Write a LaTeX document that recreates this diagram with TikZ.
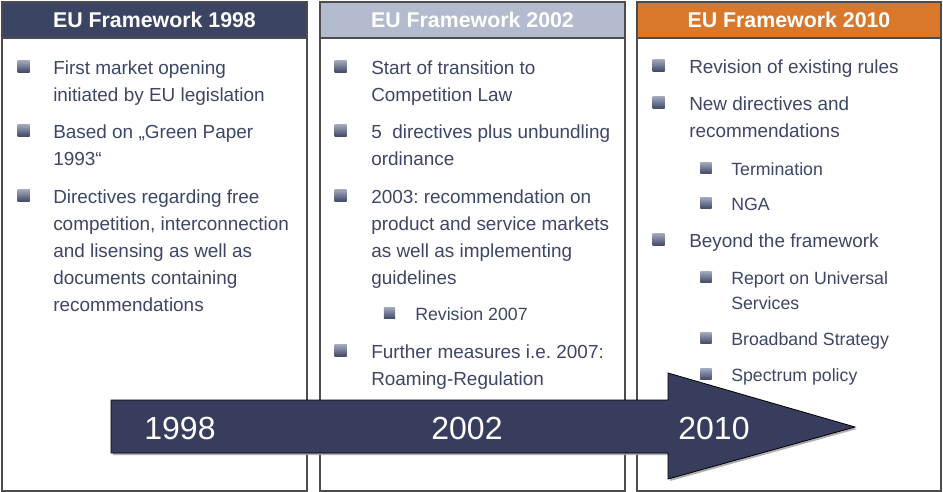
\documentclass[tikz,border=0pt]{standalone}
\usepackage{fontspec}
\setmainfont{Liberation Sans}
\usetikzlibrary{positioning,shadows}
\usepackage{xcolor}
\frenchspacing

\definecolor{navy}{HTML}{3B4563}
\definecolor{paleblue}{HTML}{B3BBCE}
\definecolor{orangehead}{HTML}{D9782A}
\definecolor{textc}{HTML}{3E4666}
\definecolor{arrowc}{HTML}{383D5E}
\definecolor{bullight}{HTML}{A2A8BC}
\definecolor{buldark}{HTML}{414868}

\begin{document}
\begin{tikzpicture}[x=0.75pt, y=-0.75pt,
    colbox/.style={draw=gray!60!black, fill=white, line width=1pt, inner sep=0pt,
        minimum width=228.75pt, minimum height=366.75pt},
    headbox/.style={draw=gray!60!black, line width=1pt, inner sep=0pt, text=white,
        minimum width=228.75pt, minimum height=27pt, font=\fontsize{16}{19}\selectfont\bfseries},
    sq/.style={rectangle, inner sep=0pt, minimum size=9pt, top color=bullight, bottom color=buldark},
    sqsmall/.style={sq, minimum size=8.5pt},
    % first line baseline sits at the given point (text starts with \strut)
    itm/.style={anchor=north west, align=left, inner sep=0pt, text=textc, yshift=14.175pt,
        font=\fontsize{14.2}{20.25}\selectfont},
    subitm/.style={itm, yshift=-1.05pt, font=\fontsize{13.3}{18.75}\selectfont},
    year/.style={text=white, inner sep=0pt, font=\fontsize{24}{28}\selectfont}]

    \useasboundingbox (0,0) rectangle (943,492);

    % Columns and their headers
    \node[colbox] (col98) at (154.5,246.5) {};
    \node[colbox] (col02) at (472.5,246.5) {};
    \node[colbox, minimum width=228pt] (col10) at (789,246.5) {};
    \node[headbox, fill=navy] (head98) at (154.5,20) {EU Framework 1998};
    \node[headbox, fill=paleblue] (head02) at (472.5,20) {EU Framework 2002};
    \node[headbox, fill=orangehead, minimum width=228pt] (head10) at (789,20) {EU Framework 2010};

    % Timeline arrow
    \fill[arrowc, draw=black, line width=0.6pt,
        drop shadow={shadow xshift=1.5pt, shadow yshift=-1.5pt, fill=gray!70, opacity=0.9}]
        (111,400) -- (668,400) -- (668,373) -- (855,427) -- (668,479) -- (668,453) -- (111,453) -- cycle;
    \node[year] (y98) at (180,428.5) {1998};
    \node[year] (y02) at (467,428.5) {2002};
    \node[year] (y10) at (714,428.5) {2010};

    % Column 1998
    \foreach \by/\txt [count=\i] in {74/{First market opening\\initiated by EU legislation},
        138/{Based on „Green Paper\\1993“},
        203/{Directives regarding free\\competition, interconnection\\and lisensing as well as\\documents containing\\recommendations}}
    {
        \node[sq] (b98\i) at (23.5,\by-7.5) {};
        \node[itm] (t98\i) at (53,\by) {\strut\txt};
    }

    % Column 2002
    \foreach \by/\txt [count=\i] in {74/{Start of transition to\\Competition Law},
        138/{5~~directives plus unbundling\\ordinance},
        203/{2003: recommendation on\\product and service markets\\as well as implementing\\guidelines},
        358/{Further measures i.e. 2007:\\Roaming-Regulation}}
    {
        \node[sq] (b02\i) at (340.5,\by-7.5) {};
        \node[itm] (t02\i) at (371,\by) {\strut\txt};
    }
    \node[sqsmall] (s021) at (389.5,313) {};
    \node[subitm] (u021) at (415,320) {\strut Revision 2007};

    % Column 2010
    \foreach \by/\txt [count=\i] in {73/{Revision of existing rules},
        110/{New directives and\\recommendations},
        247/{Beyond the framework}}
    {
        \node[sq] (b10\i) at (658.5,\by-7.5) {};
        \node[itm] (t10\i) at (689,\by) {\strut\txt};
    }
    \foreach \by/\txt [count=\i] in {175/{Termination}, 210/{NGA},
        284/{Report on Universal\\Services}, 345/{Broadband Strategy}, 381/{Spectrum policy}}
    {
        \node[sqsmall] (s10\i) at (706,\by-7) {};
        \node[subitm] (u10\i) at (731,\by) {\strut\txt};
    }
\end{tikzpicture}
\end{document}
